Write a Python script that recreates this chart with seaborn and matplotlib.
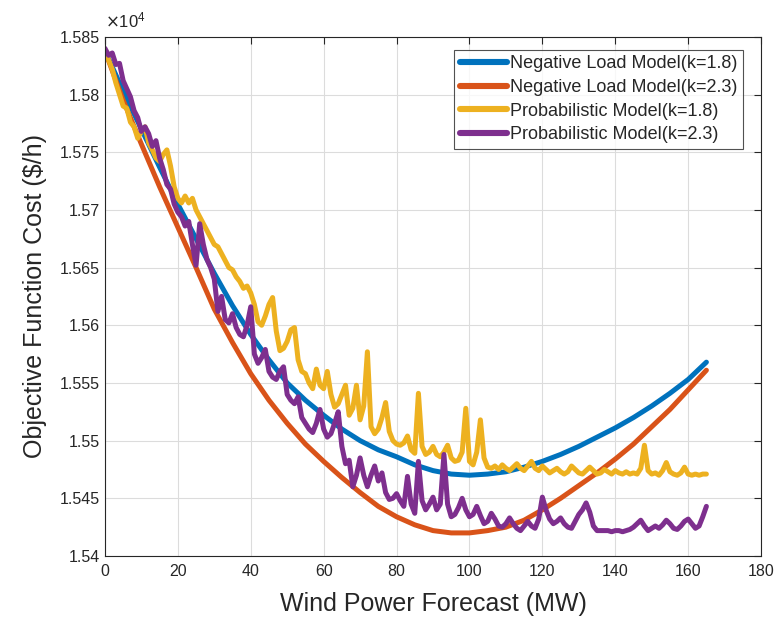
import numpy as np
import pandas as pd
import matplotlib
matplotlib.use("Agg")
import matplotlib.pyplot as plt
import seaborn as sns
from matplotlib.ticker import FuncFormatter, MultipleLocator

# ---------------- data ----------------
x_smooth = list(range(0, 166, 5))
neg_k18 = [15838, 15803, 15770, 15737, 15705, 15675, 15645, 15617, 15592, 15570,
           15550, 15535, 15522, 15510, 15500, 15492, 15486, 15479, 15474, 15471,
           15470, 15471, 15473, 15477, 15482, 15488, 15495, 15503, 15511, 15520,
           15530, 15541, 15553, 15568]
neg_k23 = [15838, 15795, 15757, 15720, 15685, 15650, 15614, 15585, 15558, 15535,
           15515, 15497, 15482, 15468, 15455, 15443, 15434, 15427, 15422, 15420,
           15420, 15422, 15425, 15431, 15440, 15450, 15461, 15472, 15484, 15497,
           15512, 15527, 15544, 15561]

x_noisy = list(range(0, 166))
prob_k18 = [15838, 15830, 15822, 15810, 15800, 15790, 15788, 15776, 15772, 15762,
            15768, 15772, 15758, 15752, 15745, 15742, 15748, 15752, 15738, 15720,
            15710, 15706, 15712, 15706, 15710, 15700, 15694, 15688, 15682, 15676,
            15670, 15668, 15662, 15656, 15650, 15648, 15642, 15638, 15632, 15634,
            15628, 15618, 15603, 15600, 15608, 15618, 15624, 15595, 15578, 15580,
            15586, 15596, 15598, 15570, 15560, 15558, 15550, 15545, 15562, 15548,
            15545, 15560, 15540, 15529, 15532, 15540, 15548, 15522, 15528, 15548,
            15518, 15530, 15577, 15512, 15506, 15510, 15520, 15533, 15508, 15500,
            15497, 15496, 15498, 15504, 15492, 15489, 15541, 15495, 15488, 15490,
            15495, 15488, 15486, 15490, 15496, 15485, 15482, 15483, 15490, 15528,
            15482, 15479, 15490, 15518, 15485, 15477, 15476, 15478, 15475, 15479,
            15476, 15474, 15477, 15480, 15476, 15474, 15478, 15482, 15476, 15474,
            15478, 15475, 15472, 15474, 15476, 15473, 15471, 15473, 15478, 15475,
            15472, 15471, 15474, 15477, 15474, 15471, 15472, 15475, 15473, 15471,
            15474, 15472, 15471, 15473, 15471, 15472, 15471, 15476, 15496, 15474,
            15471, 15472, 15470, 15474, 15481, 15473, 15471, 15470, 15472, 15477,
            15471, 15470, 15471, 15470, 15471, 15471]
prob_k23 = [15840, 15834, 15836, 15826, 15827, 15812, 15805, 15798, 15786, 15780,
            15768, 15772, 15766, 15755, 15760, 15745, 15735, 15722, 15718, 15705,
            15698, 15694, 15686, 15690, 15670, 15652, 15688, 15670, 15657, 15650,
            15640, 15612, 15625, 15605, 15602, 15610, 15598, 15592, 15590, 15600,
            15616, 15575, 15567, 15572, 15579, 15560, 15555, 15553, 15560, 15564,
            15540, 15535, 15532, 15538, 15520, 15515, 15510, 15507, 15515, 15527,
            15510, 15503, 15506, 15515, 15525, 15495, 15480, 15483, 15460, 15470,
            15485, 15470, 15460, 15470, 15478, 15465, 15472, 15455, 15449, 15450,
            15454, 15448, 15443, 15469, 15445, 15437, 15482, 15448, 15440, 15445,
            15451, 15440, 15445, 15488, 15445, 15434, 15436, 15442, 15450, 15440,
            15434, 15436, 15443, 15435, 15428, 15430, 15437, 15432, 15426, 15425,
            15428, 15433, 15428, 15424, 15422, 15426, 15430, 15426, 15424, 15432,
            15451, 15440, 15432, 15428, 15430, 15433, 15428, 15425, 15424, 15430,
            15436, 15440, 15446, 15438, 15426, 15422, 15422, 15422, 15422, 15421,
            15422, 15422, 15421, 15422, 15423, 15425, 15428, 15431, 15426, 15422,
            15424, 15426, 15424, 15427, 15431, 15428, 15424, 15423, 15426, 15430,
            15432, 15428, 15424, 15426, 15434, 15443]

labels = ["Negative Load Model(k=1.8)", "Negative Load Model(k=2.3)",
          "Probabilistic Model(k=1.8)", "Probabilistic Model(k=2.3)"]
colors = ["#0072BD", "#D95319", "#EDB120", "#7E2F8E"]
y_ticks = [15400, 15450, 15500, 15550, 15600, 15650, 15700, 15750, 15800, 15850]

# ---------------- plot ----------------
sns.set_style("white")
plt.rcParams['font.family'] = ['Liberation Sans', 'DejaVu Sans']

fig = plt.figure(figsize=(7.83, 6.24), dpi=100)
ax = fig.add_axes([0.134, 0.109, 0.838, 0.832])

series = [(x_smooth, neg_k18), (x_smooth, neg_k23), (x_noisy, prob_k18), (x_noisy, prob_k23)]
for (xs, ys), lab, col in zip(series, labels, colors):
    df = pd.DataFrame({"x": xs, "y": ys})
    sns.lineplot(data=df, x="x", y="y", ax=ax, color=col, linewidth=3.6,
                 label=lab, estimator=None, sort=False)

ax.set_xlim(0, 180)
ax.set_ylim(15400, 15850)
ax.xaxis.set_major_locator(MultipleLocator(20))
ax.set_yticks(y_ticks)
ax.yaxis.set_major_formatter(FuncFormatter(lambda v, p: "%g" % (v / 1e4)))

ax.grid(True, color="#dcdcdc", linewidth=0.8)
ax.set_axisbelow(True)
for s in ax.spines.values():
    s.set_color("#262626")
    s.set_linewidth(0.8)
ax.tick_params(direction="in", top=True, right=True, length=5, width=0.8,
               labelsize=11.5, colors="#262626")
ax.tick_params(axis="x", pad=6)

ax.set_xlabel("Wind Power Forecast (MW)", fontsize=18, color="#262626", labelpad=9)
ax.set_ylabel("Objective Function Cost ($/h)", fontsize=18, color="#262626", labelpad=9)

ax.text(0.0, 1.012, r"$\times\mathregular{10^{4}}$", transform=ax.transAxes,
        fontsize=12, color="#262626", ha="left", va="bottom")

leg = ax.legend(loc="upper right", bbox_to_anchor=(0.9725, 0.975), fontsize=13,
                frameon=True, fancybox=False, edgecolor="#262626",
                handlelength=2.6, handletextpad=0.2, borderpad=0.3,
                labelspacing=0.37, borderaxespad=0.0)
leg.get_frame().set_linewidth(0.8)
for line in leg.get_lines():
    line.set_linewidth(4.4)

fig.savefig("out.png", dpi=100)
